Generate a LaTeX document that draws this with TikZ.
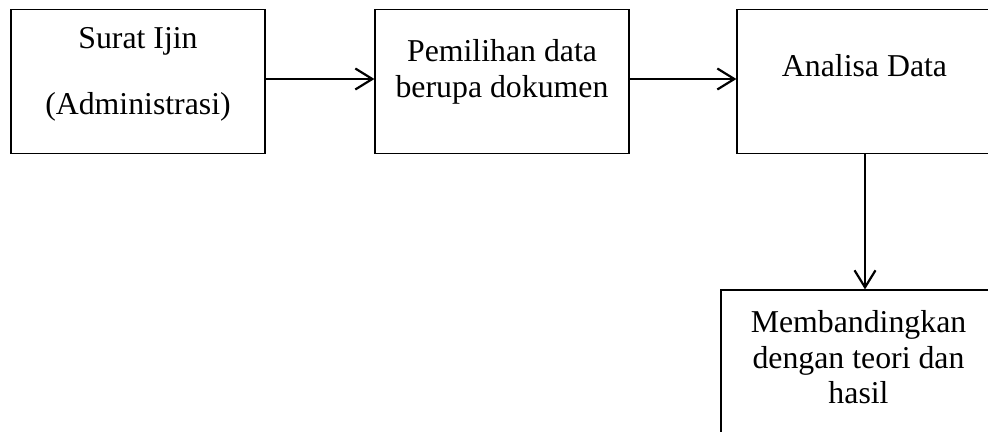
\documentclass[tikz,border=0pt]{standalone}
\usepackage{fontspec}
\setmainfont{Liberation Serif}
\usetikzlibrary{arrows.meta}
\begin{document}
\begin{tikzpicture}[x=0.5pt,y=-0.5pt,
  box/.style={draw=black,line width=0.6pt,inner sep=0pt},
  lbl/.style={anchor=base,inner sep=0pt,font=\fontsize{15.9}{18}\selectfont},
  conn/.style={line width=1.1pt,-{Straight Barb[length=8.5pt,width=10.5pt,line width=1.1pt]}}]
\useasboundingbox (0,0) rectangle (988,432);
\clip (0,0) rectangle (988,432);
\fill[white] (0,0) rectangle (988,432);
% boxes
\node[box,minimum width=127pt,minimum height=72pt] (b1) at (138,81.5) {};
\node[box,minimum width=127pt,minimum height=72pt] (b2) at (502,81.5) {};
\node[box,minimum width=127.5pt,minimum height=72pt] (b3) at (864.5,81.5) {};
\node[box,minimum width=137.5pt,minimum height=90pt] (b4) at (858.5,380) {};
% texts
\node[lbl] (t1a) at (138,49) {Surat Ijin};
\node[lbl] (t1b) at (138,115) {(Administrasi)};
\node[lbl] (t2a) at (502,61.5) {Pemilihan data};
\node[lbl] (t2b) at (502,98) {berupa dokumen};
\node[lbl] (t3) at (864.5,77) {Analisa Data};
\node[lbl] (t4a) at (858.5,332) {Membandingkan};
\node[lbl] (t4b) at (858.5,368) {dengan teori dan};
\node[lbl] (t4c) at (858.5,403) {hasil};
% connectors
\draw[conn] (b1.east |- 0,79) -- (b2.west |- 0,79);
\draw[conn] (b2.east |- 0,79) -- (b3.west |- 0,79);
\draw[conn] (b3.south -| 865,0) -- (b4.north -| 865,0);
\end{tikzpicture}
\end{document}
